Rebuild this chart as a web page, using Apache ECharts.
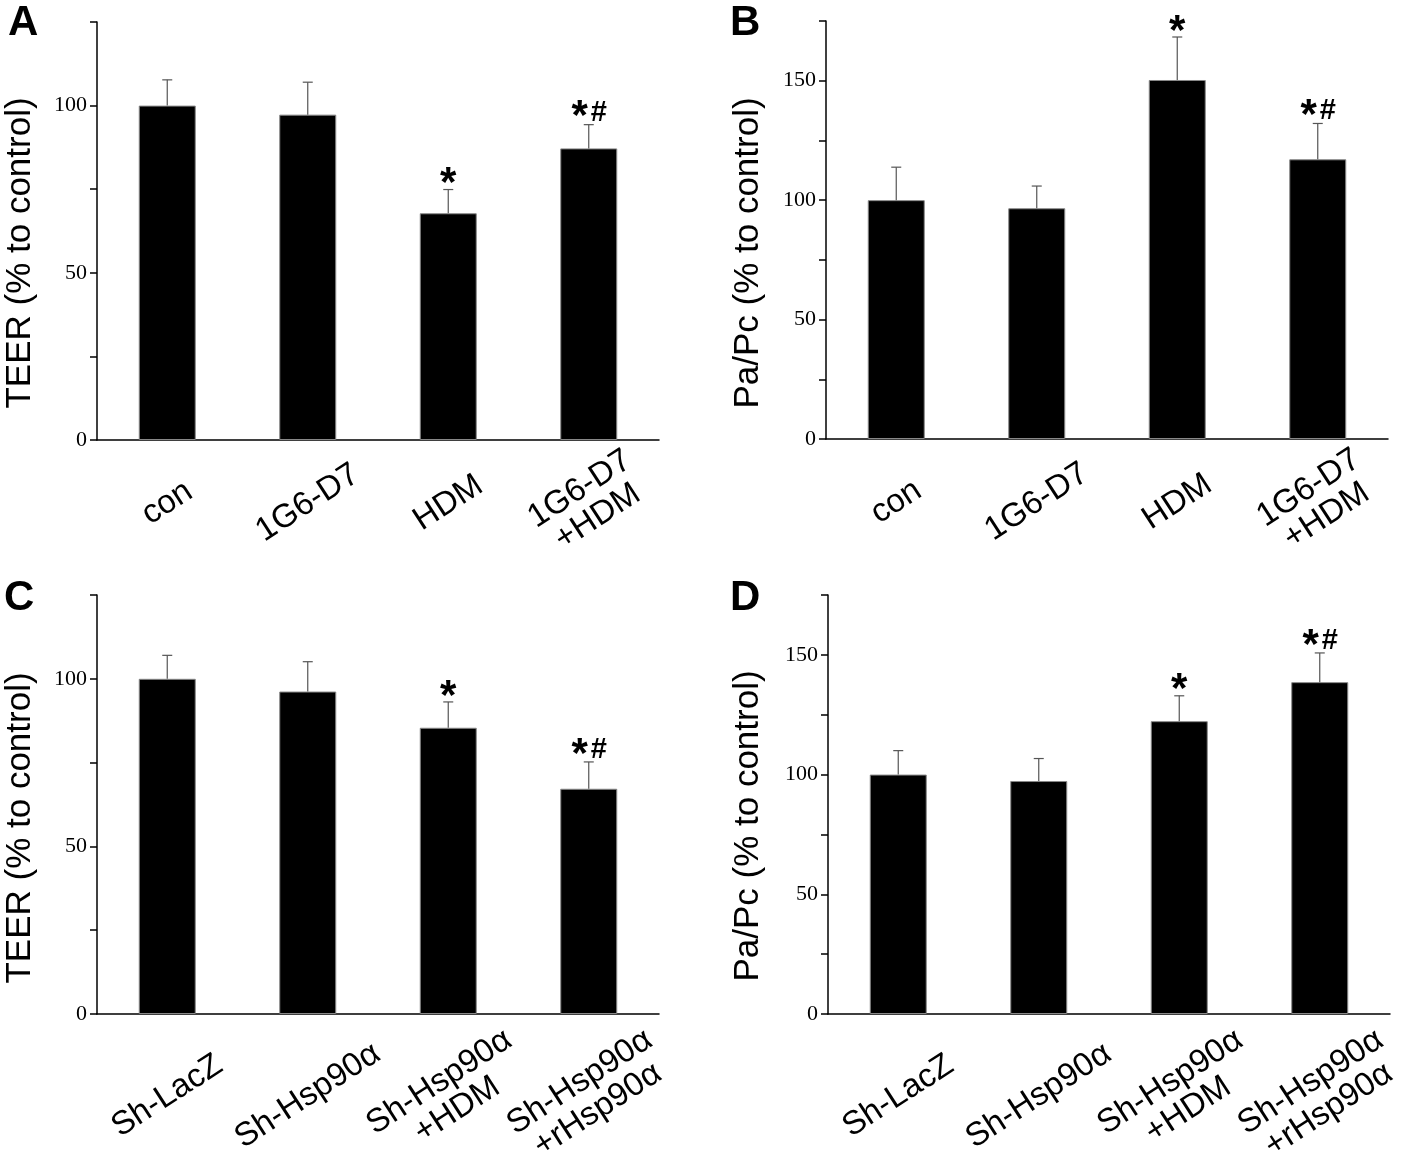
<!DOCTYPE html>
<html>
<head>
<meta charset="utf-8">
<script src="https://cdn.jsdelivr.net/npm/echarts@6/dist/echarts.min.js"></script>
<style>html,body{margin:0;padding:0;background:#fff;}#c{width:1418px;height:1158px;}</style>
</head>
<body>
<div id="c"></div>
<script>
// ---- data ----
const catsAB = ['con', '1G6-D7', 'HDM', '1G6-D7\n+HDM'];
const catsCD = ['Sh-LacZ', 'Sh-Hsp90α', 'Sh-Hsp90α\n+HDM', 'Sh-Hsp90α\n+rHsp90α'];

const valA = [100, 97.3, 67.8, 87.2];
const errA = [7.7, 9.7, 7.1, 7.1];
const sigA = ['', '', '*', '*#'];

const valB = [100, 96.6, 150.3, 117.1];
const errB = [13.8, 9.3, 18.0, 15.0];
const sigB = ['', '', '*', '*#'];

const valC = [100, 96.2, 85.4, 67.2];
const errC = [7.0, 8.9, 7.7, 8.0];
const sigC = ['', '', '*', '*#'];

const valD = [100, 97.3, 122.3, 138.6];
const errD = [10.0, 9.4, 10.6, 12.2];
const sigD = ['', '', '*', '*#'];

const yTitleTEER = 'TEER (% to control)';
const yTitlePaPc = 'Pa/Pc (% to control)';
const panelLetters = ['A', 'B', 'C', 'D'];
const yMaxTEER = 125, yMaxPaPc = 175, yStep = 25, yLabelStep = 50;

// ---- layout ----
const grids = [
  {left: 97, top: 22, width: 562, height: 418, outerBoundsMode: 'none', containLabel: false},
  {left: 826, top: 21, width: 562, height: 418, outerBoundsMode: 'none', containLabel: false},
  {left: 97, top: 595, width: 562, height: 419, outerBoundsMode: 'none', containLabel: false},
  {left: 828, top: 595, width: 562, height: 419, outerBoundsMode: 'none', containLabel: false}
];
const labelMargins = [63, 63, 82, 82];
const panels = [
  {cats: catsAB, val: valA, err: errA, sig: sigA, max: yMaxTEER},
  {cats: catsAB, val: valB, err: errB, sig: sigB, max: yMaxPaPc},
  {cats: catsCD, val: valC, err: errC, sig: sigC, max: yMaxTEER},
  {cats: catsCD, val: valD, err: errD, sig: sigD, max: yMaxPaPc}
];

const starFont = 'bold 42px "Liberation Sans", Arial, sans-serif';
const hashFont = 'bold 29px "Liberation Sans", Arial, sans-serif';

const xAxes = [], yAxes = [], series = [];
panels.forEach((p, i) => {
  xAxes.push({
    type: 'category', gridIndex: i, data: p.cats, position: 'bottom',
    axisLine: {lineStyle: {color: '#000', width: 1.5}},
    axisTick: {alignWithLabel: true, length: 10, lineStyle: {color: '#000', width: 1.5}},
    axisLabel: {
      rotate: 33, align: 'center', verticalAlign: 'middle', margin: labelMargins[i],
      fontFamily: 'Liberation Sans, Arial, sans-serif', fontSize: 33, color: '#000', lineHeight: 33
    }
  });
  xAxes.push({
    type: 'category', gridIndex: i, data: p.cats, position: 'bottom',
    axisLine: {show: false},
    axisTick: {length: 5, lineStyle: {color: '#000', width: 1.5}},
    axisLabel: {show: false}
  });
  yAxes.push({
    type: 'value', gridIndex: i, min: 0, max: p.max, interval: yStep,
    splitLine: {show: false},
    axisLine: {show: true, lineStyle: {color: '#000', width: 1.5}},
    axisTick: {show: true, length: 7, lineStyle: {color: '#000', width: 1.5}},
    axisLabel: {
      margin: 10, fontFamily: 'Liberation Serif, Times New Roman, serif', fontSize: 22, color: '#000',
      formatter: v => (v % yLabelStep === 0 && v < p.max) ? String(v) : ''
    }
  });
  series.push({
    type: 'bar', xAxisIndex: i * 2, yAxisIndex: i, data: p.val, barWidth: 57,
    itemStyle: {color: '#000', borderColor: '#888', borderWidth: 1},
    silent: true
  });
  series.push({
    type: 'custom', xAxisIndex: i * 2, yAxisIndex: i,
    data: p.val.map((v, k) => [k, v, p.err[k]]),
    renderItem: function (params, api) {
      const k = api.value(0), v = api.value(1), e = api.value(2);
      const base = api.coord([k, v]);
      const top = api.coord([k, v + e]);
      const children = [
        {type: 'line', shape: {x1: base[0], y1: base[1], x2: top[0], y2: top[1]},
         style: {stroke: '#555', lineWidth: 1.2}},
        {type: 'line', shape: {x1: top[0] - 5, y1: top[1], x2: top[0] + 5, y2: top[1]},
         style: {stroke: '#555', lineWidth: 1.2}}
      ];
      const s = p.sig[k];
      if (s === '*') {
        children.push({type: 'text', x: top[0], y: top[1] - 5,
          style: {text: '*', fill: '#000', font: starFont, textAlign: 'center', textVerticalAlign: 'middle'}});
      } else if (s === '*#') {
        children.push({type: 'text', x: top[0] - 9, y: top[1] - 7,
          style: {text: '*', fill: '#000', font: starFont, textAlign: 'center', textVerticalAlign: 'middle'}});
        children.push({type: 'text', x: top[0] + 10, y: top[1] - 12,
          style: {text: '#', fill: '#000', font: hashFont, textAlign: 'center', textVerticalAlign: 'middle'}});
      }
      return {type: 'group', children: children};
    },
    silent: true, z: 3
  });
});

const graphics = [];
const letterPos = [[8, 2], [730, 2], [4, 577], [730, 577]];
panelLetters.forEach((L, i) => {
  graphics.push({type: 'text', left: letterPos[i][0], top: letterPos[i][1],
    style: {text: L, fill: '#000', font: 'bold 42px "Liberation Sans", Arial, sans-serif'}});
});
const titlePos = [[20, 253, yTitleTEER], [748, 253, yTitlePaPc], [20, 828, yTitleTEER], [748, 826, yTitlePaPc]];
titlePos.forEach(t => {
  graphics.push({type: 'text', x: t[0], y: t[1], rotation: Math.PI / 2,
    style: {text: t[2], fill: '#000', font: '35px "Liberation Sans", Arial, sans-serif',
            textAlign: 'center', textVerticalAlign: 'middle'}});
});

const chart = echarts.init(document.getElementById('c'), null, {renderer: 'canvas'});
chart.setOption({
  animation: false,
  backgroundColor: '#fff',
  grid: grids,
  xAxis: xAxes,
  yAxis: yAxes,
  series: series,
  graphic: graphics
});
</script>
</body>
</html>
